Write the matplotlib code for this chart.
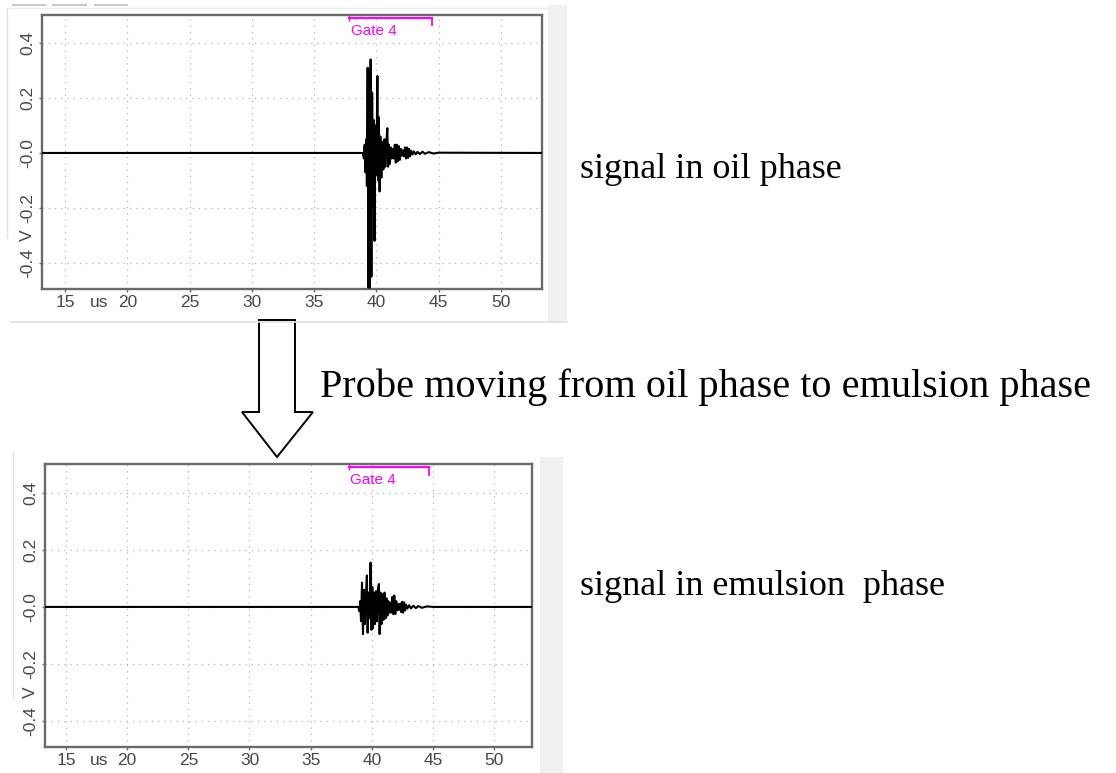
import matplotlib
matplotlib.use("Agg")
import matplotlib.pyplot as plt
from matplotlib.patches import Polygon, Rectangle

# image size in pixels
W, H = 1116, 773

# shared axis settings of the two scope screens
x_ticks = [15, 20, 25, 30, 35, 40, 45, 50]
y_ticks = [-0.4, -0.2, 0.0, 0.2, 0.4]
y_tick_labels = ['-0.4', '-0.2', '-0.0', '0.2', '0.4']

# signal in oil phase (time in us, amplitude in V)
oil_time = [13.2, 38.9, 39.0, 39.06, 39.12, 39.18, 39.24, 39.3, 39.36, 39.42,
            39.48, 39.54, 39.6, 39.66, 39.72, 39.78, 39.85, 39.92, 40.0, 40.08,
            40.14, 40.2, 40.26, 40.32, 40.4, 40.48, 40.56, 40.64, 40.72, 40.8,
            40.88, 40.94, 41.0, 41.08, 41.16, 41.24, 41.32, 41.4, 41.48, 41.56,
            41.64, 41.72, 41.8, 41.88, 41.96, 42.04, 42.12, 42.2, 42.3, 42.38,
            42.46, 42.54, 42.62, 42.7, 42.78, 42.9, 43.0, 43.15, 43.3, 43.5,
            43.7, 43.9, 44.2, 44.6, 45.0, 53.3]
oil_volt = [0.0, 0.0, -0.02, 0.03, -0.07, 0.05, -0.12, 0.31, -0.49, 0.30,
            -0.49, 0.34, -0.45, 0.22, -0.20, 0.12, -0.32, 0.10, -0.08, 0.28,
            -0.10, 0.13, -0.14, 0.06, -0.09, 0.04, -0.06, 0.05, -0.05, 0.04,
            0.09, -0.05, 0.03, -0.04, 0.02, -0.02, 0.015, -0.02, 0.03, -0.035,
            0.03, -0.03, 0.025, -0.025, 0.015, -0.01, 0.01, -0.012, 0.02, -0.02,
            0.02, -0.018, 0.015, -0.012, 0.008, -0.006, 0.006, -0.005, 0.004, -0.004,
            0.005, -0.003, 0.003, -0.002, 0.001, 0.0]

# signal in emulsion phase
emul_time = [13.3, 38.9, 38.98, 39.05, 39.12, 39.2, 39.28, 39.36, 39.44, 39.52,
             39.6, 39.66, 39.74, 39.82, 39.9, 39.97, 40.04, 40.1, 40.18, 40.26,
             40.34, 40.42, 40.5, 40.58, 40.64, 40.72, 40.8, 40.88, 40.96, 41.04,
             41.12, 41.2, 41.28, 41.36, 41.44, 41.52, 41.6, 41.68, 41.76, 41.84,
             41.92, 42.0, 42.08, 42.16, 42.24, 42.32, 42.4, 42.48, 42.56, 42.64,
             42.72, 42.8, 42.9, 43.05, 43.2, 43.4, 43.6, 43.8, 44.1, 44.5,
             45.0, 53.1]
emul_volt = [0.0, 0.0, -0.015, 0.02, -0.05, 0.085, -0.095, 0.06, -0.06, 0.04,
             0.11, -0.09, 0.05, -0.04, 0.155, -0.08, 0.07, -0.075, 0.05, -0.06,
             0.055, -0.05, 0.06, 0.08, -0.095, 0.05, -0.06, 0.045, -0.045, 0.05,
             -0.04, 0.03, -0.03, 0.02, -0.02, 0.015, -0.02, 0.035, -0.025, 0.04,
             -0.025, 0.02, -0.012, 0.01, -0.01, 0.012, -0.018, 0.018, -0.02, 0.016,
             -0.012, 0.008, -0.006, 0.006, -0.005, 0.004, -0.004, 0.003, -0.003, 0.002,
             0.0, 0.0]

# gate 4 span on each screen (us)
oil_gate = [37.83, 44.44]
emul_gate = [38.1, 44.67]

# texts
oil_text = 'signal in oil phase'
emul_text = 'signal in emulsion  phase'
move_text = 'Probe moving from oil phase to emulsion phase'

GATE_COLOR = '#ff00ff'
FRAME_COLOR = '#6a6a6a'
LABEL_COLOR = '#484848'


def px_box(left, top, right, bottom):
    # pixel box (from top-left) -> figure fraction rect
    return [left / W, (H - bottom) / H, (right - left) / W, (bottom - top) / H]


fig = plt.figure(figsize=(W / 100, H / 100), dpi=100)

# background layer in pixel coordinates (screenshot frames, arrow, captions)
bg = fig.add_axes([0, 0, 1, 1])
bg.set_xlim(0, W)
bg.set_ylim(H, 0)
bg.axis('off')

# top screenshot frame
bg.add_patch(Rectangle((548, 5), 19, 318, facecolor='#f0f0f0', edgecolor='none'))
bg.plot([7, 7], [8, 238], color='#e2e2e2', lw=1)
bg.plot([7, 548], [8, 8], color='#ececec', lw=1)
bg.plot([10, 567], [322, 322], color='#e2e2e2', lw=1.2)
for a, b in [(13, 45), (53, 86), (95, 127)]:
    bg.plot([a, b], [5, 5], color='#c8c8c8', lw=1.5)
# bottom screenshot frame
bg.add_patch(Rectangle((540, 457), 23, 316, facecolor='#f0f0f0', edgecolor='none'))
bg.plot([13, 13], [452, 698], color='#e2e2e2', lw=1)

# hollow down arrow
arrow = Polygon([(259, 320), (295, 320), (295, 412), (313, 412), (277, 457),
                 (242, 412), (259, 412)], closed=True, facecolor='white',
                edgecolor='black', lw=1.4)
bg.add_patch(arrow)

serif = ['Liberation Serif', 'DejaVu Serif']
bg.text(580, 178, oil_text, fontsize=26, family=serif, va='baseline', ha='left')
bg.text(320, 397, move_text, fontsize=29, family=serif, va='baseline', ha='left')
bg.text(580, 595, emul_text, fontsize=26, family=serif, va='baseline', ha='left')


def scope(rect, time, volt, xlim, ylim, gate):
    ax = fig.add_axes(rect)
    ax.set_facecolor('white')
    ax.plot(time, volt, color='black', lw=1.5, zorder=3)
    ax.set_xlim(*xlim)
    ax.set_ylim(*ylim)
    ax.set_xticks(x_ticks)
    ax.set_yticks(y_ticks)
    ax.set_yticklabels(y_tick_labels)
    ax.grid(True, color='#b4b4b4', linestyle=(0, (1, 4)), lw=0.9)
    ax.tick_params(axis='both', direction='out', length=2.5, width=1,
                   color=FRAME_COLOR, labelcolor=LABEL_COLOR, labelsize=12.5,
                   labelfontfamily='Liberation Sans')
    ax.tick_params(axis='x', pad=1.5)
    ax.tick_params(axis='y', pad=2.5)
    for lab in ax.get_yticklabels():
        lab.set_rotation(90)
        lab.set_va('center')
    for sp in ax.spines.values():
        sp.set_color(FRAME_COLOR)
        sp.set_linewidth(1.7)
    # unit labels sitting between the tick labels
    ax.annotate('V', xy=(0, -0.3), xycoords=ax.get_yaxis_transform(),
                xytext=(-5, 0), textcoords='offset points', rotation=90,
                ha='right', va='center', fontsize=12.5, color=LABEL_COLOR,
                family='Liberation Sans')
    ax.annotate('us', xy=(17.7, 0), xycoords=ax.get_xaxis_transform(),
                xytext=(0, -4), textcoords='offset points',
                ha='center', va='top', fontsize=12.5, color=LABEL_COLOR,
                family='Liberation Sans')
    # gate marker
    gy = ylim[1] - 0.012
    ax.plot(gate, [gy, gy], color=GATE_COLOR, lw=1.6, zorder=4, clip_on=False)
    ax.plot([gate[1], gate[1]], [gy, gy - 0.025], color=GATE_COLOR, lw=1.3, zorder=4)
    ax.plot([gate[0]], [gy], marker='|', color=GATE_COLOR, ms=4, zorder=4)
    ax.text(gate[0] + 0.1, gy - 0.02, 'Gate 4', color=GATE_COLOR, fontsize=11,
            family='Liberation Sans', ha='left', va='top')
    return ax


scope(px_box(42, 15, 542, 289), oil_time, oil_volt, (13.15, 53.3), (-0.495, 0.502), oil_gate)
scope(px_box(45, 464, 532, 747), emul_time, emul_volt, (13.28, 53.1), (-0.49, 0.50), emul_gate)

fig.savefig('out.png', dpi=100)
